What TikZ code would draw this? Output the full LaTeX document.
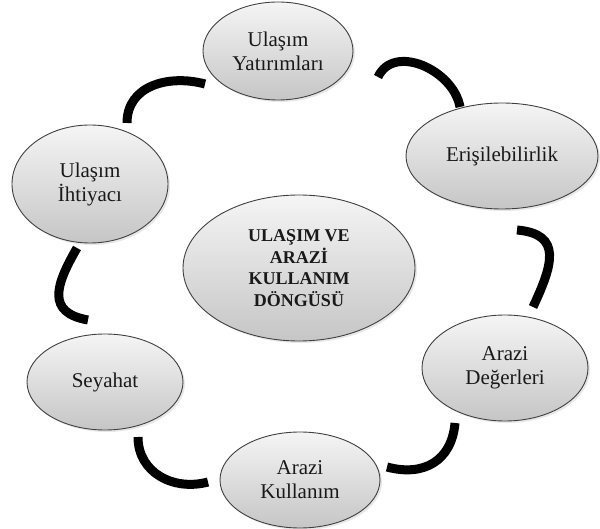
\documentclass[tikz,border=0pt]{standalone}
\usepackage{fontspec}
\setmainfont{Liberation Serif}
\usetikzlibrary{calc,shadows,shapes.geometric}
\begin{document}
\begin{tikzpicture}[x=1pt,y=1pt]
\tikzset{
  cyc/.style={ellipse, draw=black!75, line width=0.9pt,
    top color=gray!8, bottom color=gray!45, inner sep=0pt, align=center,
    font=\fontsize{21}{24}\selectfont, text=black!90,
    drop shadow={opacity=0.18, shadow xshift=2pt, shadow yshift=-2pt}},
  hub/.style={cyc, font=\fontsize{18}{21.5}\selectfont\bfseries},
  link/.style={line width=9pt, black}
}
\useasboundingbox (0,0) rectangle (600,-529);

% cycle stages
\node[cyc, minimum width=150, minimum height=98]  (yat) at (278,-51)  {Ulaşım\\Yatırımları};
\node[cyc, minimum width=192, minimum height=106] (eri) at (502,-156) {Erişilebilirlik};
\node[cyc, minimum width=166, minimum height=106] (deg) at (505,-368) {Arazi\\Değerleri};
\node[cyc, minimum width=160, minimum height=96]  (kul) at (300,-480) {Arazi\\Kullanım};
\node[cyc, minimum width=156, minimum height=96]  (sey) at (105,-382) {Seyahat};
\node[cyc, minimum width=156, minimum height=118] (iht) at (90,-184)  {Ulaşım\\İhtiyacı};
\node[hub, minimum width=232, minimum height=146] (mid) at (299,-268) {ULAŞIM VE\\ARAZİ\\KULLANIM\\DÖNGÜSÜ};

% end points of the curved links
\coordinate (a1s) at ($(iht.center)+(37,61)$);
\coordinate (a1e) at ($(yat.center)+(-73,-33)$);
\coordinate (a2s) at ($(yat.center)+(100,-26)$);
\coordinate (a2e) at ($(eri.center)+(-42,49)$);
\coordinate (a3s) at ($(eri.center)+(15,-74)$);
\coordinate (a3e) at ($(deg.center)+(28,61)$);
\coordinate (a4s) at ($(deg.center)+(-50,-55)$);
\coordinate (a4e) at ($(kul.center)+(87,13)$);
\coordinate (a5s) at ($(kul.center)+(-92,-2)$);
\coordinate (a5e) at ($(sey.center)+(33,-55)$);
\coordinate (a6s) at ($(sey.center)+(-17,62)$);
\coordinate (a6e) at ($(iht.center)+(-13,-64)$);

% curved links between stages
\draw[link] (a1s) to[out=90,in=165,looseness=1.1] (a1e);
\draw[link] (a2s) to[out=65,in=100,looseness=1.1] (a2e);
\draw[link] (a3s) to[out=-5,in=65,looseness=1.5] (a3e);
\draw[link] (a4s) to[out=-95,in=-15,looseness=1.2] (a4e);
\draw[link] (a5s) to[out=-165,in=-90,looseness=1.1] (a5e);
\draw[link] (a6s) to[out=170,in=-120,looseness=1.5] (a6e);
\end{tikzpicture}
\end{document}
